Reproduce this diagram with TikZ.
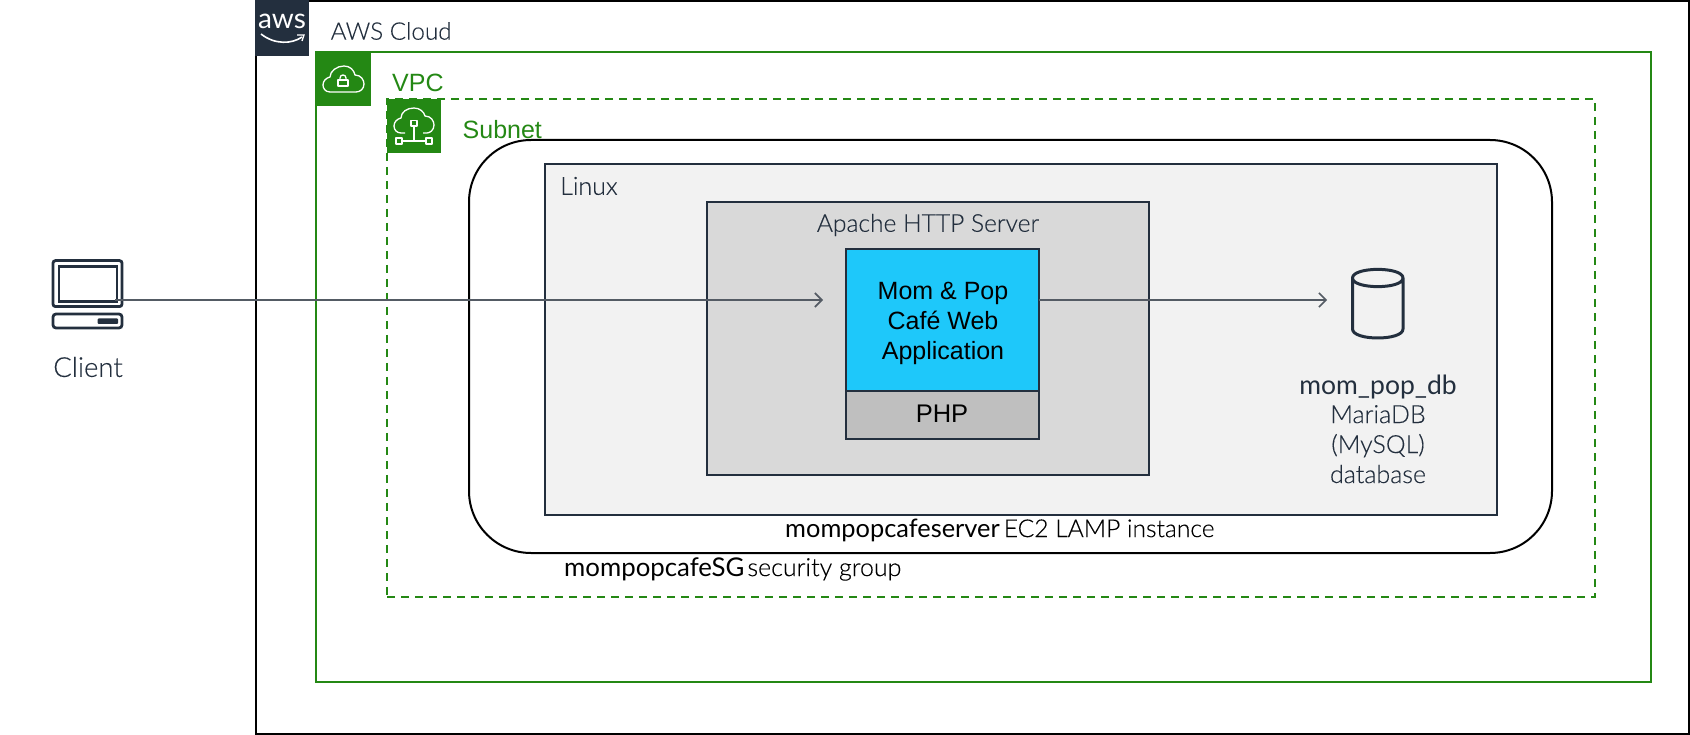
\documentclass[tikz,border=0pt]{standalone}
\usepackage{fontspec}
\setmainfont{Liberation Sans}
\newfontfamily\lightf{Lato Light}[FakeBold=0.2]
\newfontfamily\regf{Lato}
\usetikzlibrary{arrows.meta}
\definecolor{awsgreen}{HTML}{248814}
\definecolor{awsnavy}{HTML}{232F3E}
\definecolor{awsline}{HTML}{545B64}
\definecolor{panelgray}{HTML}{F2F2F2}
\definecolor{midgray}{HTML}{D9D9D9}
\definecolor{phpgray}{HTML}{BFBFBF}
\definecolor{appblue}{HTML}{1EC8FA}
\tikzset{
  x=1pt,y=-1pt,
  box/.style={rectangle,draw,anchor=north west,inner sep=0pt,outer sep=0pt},
  iconsq/.style={rectangle,fill=awsgreen,anchor=north west,inner sep=0pt,outer sep=0pt,minimum width=55pt,minimum height=55pt},
  lighttext/.style={font=\lightf\fontsize{25}{30}\selectfont,text=awsnavy,inner sep=0pt},
  armtext/.style={font=\fontsize{25}{30}\selectfont,inner sep=0pt},
  flow/.style={draw=awsline,line width=1.6pt,-{Straight Barb[length=7pt,width=14pt,line width=1.6pt]}},
  iconline/.style={draw=white,line width=1.3pt,line join=round},
  navyicon/.style={draw=awsnavy,line width=3pt,line join=round},
  clientpart/.style={rectangle,draw=awsnavy,line width=2.8pt,anchor=north west,inner sep=0pt,outer sep=0pt}
}
\begin{document}
\begin{tikzpicture}
\useasboundingbox (0,0) rectangle (1690,735);
% containers
\node[box,line width=2pt,minimum width=1433pt,minimum height=733pt] (cloud) at (255.5,1) {};
\node[box,draw=awsgreen,line width=2pt,minimum width=1335pt,minimum height=630pt] (vpc) at (316,52) {};
\node[box,draw=awsgreen,line width=2.4pt,dashed,dash pattern=on 8pt off 6pt,minimum width=1208pt,minimum height=498pt] (subnet) at (387,99) {};
\node[box,line width=2pt,rounded corners=62pt,minimum width=1083pt,minimum height=413pt] (ec2) at (469,140) {};
\node[box,draw=awsnavy,fill=panelgray,line width=2pt,minimum width=952pt,minimum height=351pt] (linux) at (545,164) {};
\node[box,draw=awsnavy,fill=midgray,line width=2pt,minimum width=442pt,minimum height=273pt] (apache) at (707,202) {};
\node[box,draw=awsnavy,fill=appblue,line width=2pt,minimum width=193pt,minimum height=142pt] (app) at (846,249) {};
\node[box,draw=awsnavy,fill=phpgray,line width=2pt,minimum width=193pt,minimum height=48pt] (php) at (846,391) {};
% aws badge
\node[rectangle,fill=awsnavy,anchor=north west,inner sep=0pt,minimum width=54pt,minimum height=56pt] (awsbadge) at (255,0) {};
\node[inner sep=0pt,text=white,font=\regf\fontsize{28}{28}\selectfont] (awslogo) at (282,21) {aws};
\draw[draw=white,line width=1.6pt] (261,34) .. controls (275,45) and (292,44) .. (302,37);
\draw[draw=white,line width=1.4pt] (297,35) -- (304,35) -- (302,41);
\node[lighttext,font=\lightf\fontsize{24.2}{30}\selectfont,anchor=west] (cloudlabel) at (330.5,31) {AWS Cloud};
% vpc badge
\node[iconsq] (vpcicon) at (316,51) {};
\draw[iconline] (330,92) .. controls (325,92) and (323,88) .. (323,85) .. controls (323,81) and (326,78) .. (330,77) .. controls (330,71) and (337,66) .. (344,66) .. controls (350,66) and (354,70) .. (355,75) .. controls (361,75) and (364,80) .. (364,84) .. controls (364,89) and (360,92) .. (356,92) -- cycle;
\draw[iconline] (338,80) rectangle (348,86);
\draw[iconline] (340,80) -- (340,78) .. controls (340,74) and (346,74) .. (346,78) -- (346,80);
\node[armtext,text=awsgreen,anchor=west] (vpclabel) at (392,83) {VPC};
% subnet badge
\node[iconsq,minimum width=54pt,minimum height=54pt] (subneticon) at (387,99) {};
\draw[iconline] (405,133) -- (401,133) .. controls (397,133) and (394,130) .. (394,126) .. controls (394,122) and (397,119) .. (401,118) .. controls (401,112) and (407,108) .. (414,108) .. controls (420,108) and (424,112) .. (425,116) .. controls (431,116) and (434,121) .. (434,125) .. controls (434,130) and (430,133) .. (427,133) -- (423,133);
\draw[iconline] (411,120.5) rectangle (417,126);
\draw[iconline] (414,126) -- (414,141);
\draw[iconline] (402,141) -- (426,141);
\draw[iconline] (396,138) rectangle (402,144);
\draw[iconline] (426,138) rectangle (432,144);
\node[armtext,text=awsgreen,anchor=west] (subnetlabel) at (462.5,130) {Subnet};
% labels in boxes
\node[lighttext,anchor=west] (linuxlabel) at (560,186) {Linux};
\node[lighttext,font=\lightf\fontsize{24.6}{30}\selectfont] (apachelabel) at (928,225) {Apache HTTP Server};
\node[armtext,align=center,text=black] (applabel) at (943,323) {Mom \& Pop\\Café Web\\Application};
\node[armtext,text=black,font=\fontsize{25.5}{30}\selectfont] (phplabel) at (942,414) {PHP};
% client
\node[clientpart,rounded corners=2.5pt,minimum width=69pt,minimum height=46pt] (clientscreen) at (53,260.6) {};
\node[clientpart,minimum width=58pt,minimum height=35pt] (clientinner) at (59,266.3) {};
\node[clientpart,rounded corners=3pt,minimum width=69pt,minimum height=14pt] (clientbase) at (53,314) {};
\node[rectangle,fill=awsnavy,rounded corners=1pt,anchor=north west,inner sep=0pt,outer sep=0pt,minimum width=20.5pt,minimum height=5.5pt] (clientbtn) at (97.5,318.5) {};
\node[lighttext,text=awsnavy,font=\lightf\fontsize{27.5}{30}\selectfont] (clientlabel) at (88,367) {Client};
% database
\coordinate (dbin) at (1327,300);
\coordinate (appin) at (823,300);
\coordinate (clientout) at (115,300);
\coordinate (appout) at (1039,300);
\draw[navyicon] (1352.5,278) .. controls (1352.5,266.5) and (1403,266.5) .. (1403,278) .. controls (1403,289.5) and (1352.5,289.5) .. (1352.5,278) -- (1352.5,329) .. controls (1352.5,341) and (1403,341) .. (1403,329) -- (1403,278);
\node[font=\regf\fontsize{26.5}{30}\selectfont,text=awsnavy,inner sep=0pt] (dbname) at (1378,387) {mom\_pop\_db};
\node[lighttext,align=center,anchor=north] (dbdesc) at (1378,405) {MariaDB\\(MySQL)\\database};
% bottom labels
\node[anchor=west,inner sep=0pt] (ec2label) at (785,530) {{\regf\fontsize{25.4}{30}\selectfont mompopcafeserver}\hspace{4pt}{\lightf\fontsize{24.6}{30}\selectfont EC2 LAMP instance}};
\node[anchor=west,inner sep=0pt] (sglabel) at (564,569) {{\regf\fontsize{25.8}{30}\selectfont mompopcafeSG}\hspace{3pt}{\lightf\fontsize{25}{30}\selectfont security group}};
% connectors
\draw[flow] (clientout) -- (appin);
\draw[flow] (appout) -- (dbin);
\end{tikzpicture}
\end{document}
